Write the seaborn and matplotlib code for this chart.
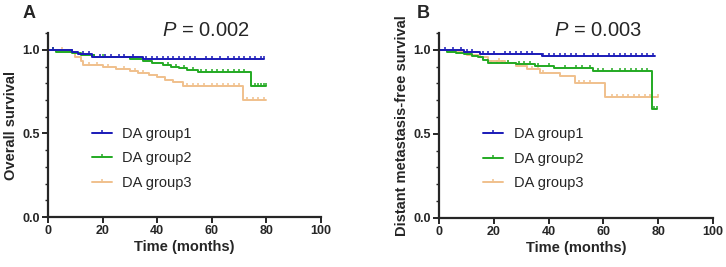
import matplotlib
matplotlib.use("Agg")
import matplotlib.pyplot as plt
import seaborn as sns
import pandas as pd
from matplotlib.lines import Line2D
from matplotlib.ticker import MultipleLocator

# Kaplan-Meier step points (time in months, survival)
groups = ["DA group1", "DA group2", "DA group3"]
colors = ["#1a1ab8", "#22aa22", "#f0c08c"]

# Panel A - overall survival
a_g1_t = [0, 9, 11, 16, 35, 79]
a_g1_s = [1.0, 0.987, 0.974, 0.96, 0.947, 0.947]
a_g2_t = [0, 3, 9, 12, 17, 25, 30, 35, 38, 42, 45, 48, 51, 55, 74.5, 80]
a_g2_s = [1.0, 0.99, 0.98, 0.97, 0.96, 0.955, 0.945, 0.935, 0.92, 0.91, 0.90, 0.89, 0.88, 0.87, 0.785, 0.785]
a_g3_t = [0, 8, 10, 12, 13, 20, 25, 30, 33, 37, 40, 43, 46, 49.5, 71.5, 80]
a_g3_s = [1.0, 0.985, 0.96, 0.935, 0.91, 0.90, 0.885, 0.875, 0.86, 0.85, 0.835, 0.82, 0.805, 0.785, 0.70, 0.70]
a_g1_cens = [2, 9, 13, 15, 17, 19, 21, 23, 26, 28, 31, 36, 38, 40, 42, 44, 46, 48, 50, 52, 54, 58, 60, 63, 66, 68, 70, 72, 74, 76, 78, 79]
a_g2_cens = [2, 20, 30, 44, 47, 50, 53, 56, 58, 60, 62, 64, 66, 68, 70, 72, 76, 77, 78, 79, 80]
a_g3_cens = [5, 15, 18, 22, 28, 32, 35, 40, 51, 53, 55, 57, 60, 62, 64, 66, 68, 70, 73, 75, 77, 79]

# Panel B - distant metastasis-free survival
b_g1_t = [0, 9, 15, 37.5, 79]
b_g1_s = [1.0, 0.99, 0.978, 0.962, 0.962]
b_g2_t = [0, 3, 6, 9, 12, 14, 16, 18, 22, 28, 35, 42, 48, 56, 77.8, 79.5]
b_g2_s = [1.0, 0.99, 0.98, 0.975, 0.965, 0.955, 0.94, 0.925, 0.92, 0.915, 0.905, 0.895, 0.89, 0.875, 0.65, 0.65]
b_g3_t = [0, 5, 10, 15, 18, 24, 28, 32, 37, 44, 49.6, 60.5, 80]
b_g3_s = [1.0, 0.985, 0.97, 0.955, 0.935, 0.925, 0.905, 0.885, 0.865, 0.845, 0.805, 0.72, 0.72]
b_g1_cens = [2, 5, 8, 10, 12, 16, 18, 20, 24, 26, 28, 30, 32, 34, 38, 40, 42, 44, 46, 48, 50, 53, 56, 58, 62, 64, 66, 68, 70, 72, 74, 76, 78]
b_g2_cens = [19, 21, 23, 25, 29, 31, 33, 36, 40, 46, 50, 52, 55, 58, 60, 63, 66, 68, 70, 72, 74, 76, 78.5, 79.5]
b_g3_cens = [22, 25, 34, 36, 38, 51, 53, 55, 63, 65, 67, 69, 71, 73, 75, 77, 80]

p_text = ["0.002", "0.003"]
ylabels = ["Overall survival", "Distant metastasis-free survival"]


def step_value(ts, ss, t):
    v = ss[0]
    for ti, si in zip(ts, ss):
        if ti <= t:
            v = si
    return v


def make_frames(curves, cens):
    lines, marks = [], []
    for g, (ts, ss), ct in zip(groups, curves, cens):
        lines.append(pd.DataFrame({"time": ts, "surv": ss, "group": g}))
        marks.append(pd.DataFrame({"time": ct, "surv": [step_value(ts, ss, c) for c in ct], "group": g}))
    return pd.concat(lines), pd.concat(marks)


sns.set_style("ticks")
plt.rcParams["font.family"] = ["Liberation Sans", "DejaVu Sans"]
plt.rcParams["mathtext.fontset"] = "custom"
plt.rcParams["mathtext.it"] = "Liberation Sans:italic"
plt.rcParams["mathtext.rm"] = "Liberation Sans"

fig = plt.figure(figsize=(7.26, 2.67), dpi=100)
ax_a = fig.add_axes([0.066, 0.187, 0.376, 0.689])
ax_b = fig.add_axes([0.605, 0.184, 0.377, 0.692])

panels = [
    (ax_a, [(a_g1_t, a_g1_s), (a_g2_t, a_g2_s), (a_g3_t, a_g3_s)], [a_g1_cens, a_g2_cens, a_g3_cens]),
    (ax_b, [(b_g1_t, b_g1_s), (b_g2_t, b_g2_s), (b_g3_t, b_g3_s)], [b_g1_cens, b_g2_cens, b_g3_cens]),
]
palette = dict(zip(groups, colors))

for i, (ax, curves, cens) in enumerate(panels):
    df_line, df_cens = make_frames(curves, cens)
    # draw group3 first so group1 sits on top
    for g in groups[::-1]:
        sns.lineplot(data=df_line[df_line.group == g], x="time", y="surv", color=palette[g],
                     drawstyle="steps-post", lw=1.4, ax=ax, legend=False, estimator=None)
        sns.scatterplot(data=df_cens[df_cens.group == g], x="time", y="surv", color=palette[g],
                        marker=2, s=6, linewidth=1.1, ax=ax, legend=False)

    ax.set_xlim(0, 100)
    ax.set_ylim(0, 1.1)
    ax.set_xticks([0, 20, 40, 60, 80, 100])
    ax.set_yticks([0.0, 0.5, 1.0])
    ax.set_yticklabels(["0.0", "0.5", "1.0"])
    ax.yaxis.set_minor_locator(MultipleLocator(0.1))
    ax.margins(0)
    for sp in ["left", "bottom"]:
        ax.spines[sp].set_linewidth(1.6)
    sns.despine(ax=ax)
    ax.tick_params(axis="both", which="major", width=1.4, length=4, labelsize=9, pad=2)
    ax.tick_params(axis="y", which="minor", width=1.0, length=2.5)
    for lab in ax.get_xticklabels() + ax.get_yticklabels():
        lab.set_fontweight("bold")
    ax.set_xlabel("Time (months)", fontsize=10.5, fontweight="bold", labelpad=2)
    ax.set_ylabel(ylabels[i], fontsize=10.5, fontweight="bold", labelpad=3)

    ax.text(0.58, 0.96, r"$P$ = " + p_text[i], transform=ax.transAxes, ha="center",
            va="bottom", fontsize=14.5)

    handles = [Line2D([], [], color=c, lw=1.4, marker=2, markersize=2.5, markeredgewidth=1.1)
               for c in colors]
    ax.legend(handles, groups, loc="upper left", bbox_to_anchor=(0.16, 0.49), frameon=False,
              fontsize=10.5, handlelength=1.4, handletextpad=0.7, labelspacing=0.72,
              borderpad=0, borderaxespad=0)

fig.text(0.04, 0.95, "A", fontsize=13, fontweight="bold", ha="center", va="center")
fig.text(0.583, 0.95, "B", fontsize=13, fontweight="bold", ha="center", va="center")

fig.savefig("out.png", dpi=100)
